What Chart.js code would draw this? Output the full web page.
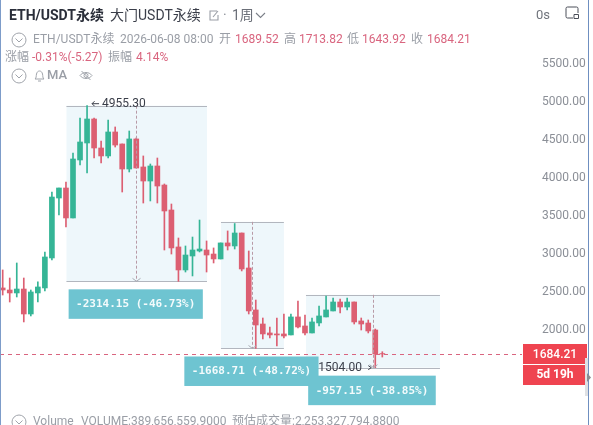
<!DOCTYPE html>
<html><head><meta charset="utf-8">
<style>
html,body{margin:0;padding:0;background:#fff;width:593px;height:425px;overflow:hidden}
#wrap{position:relative;width:593px;height:425px;font-family:Roboto,"Noto Sans CJK SC",sans-serif;overflow:hidden}
canvas{position:absolute;left:0;top:0}
.t{position:absolute;white-space:nowrap;line-height:16px;font-size:12px;color:#9a9ea6}
.p{color:#d9657f}
svg{position:absolute}
</style></head><body>
<div id="wrap">
<canvas id="c" width="593" height="425"></canvas>
<span class="t" style="left:9px;top:7px;font-size:14px;font-weight:700;color:#2a2e39">ETH/USDT永续</span>
<span class="t" style="left:110px;top:7px;font-size:14px;color:#3a3e49">大门USDT永续</span>
<svg style="left:208px;top:9px" width="12" height="13" fill="none" stroke="#9a9ea6" stroke-width="1.1"><path d="M9 2H2v9h8V6M5 8l5-6"/></svg>
<span class="t" style="left:223px;top:7px;font-size:14px;color:#8d9199">·</span>
<span class="t" style="left:232px;top:7px;font-size:14px;color:#6b6f78">1周</span>
<svg style="left:255px;top:12px" width="11" height="7" fill="none" stroke="#7b7f88" stroke-width="1.1"><path d="M1 1l4.500 4.500L10 1"/></svg>
<span class="t" style="left:536px;top:7px;font-size:13px;color:#70747c">0s</span>
<svg style="left:565px;top:6px" width="15" height="14" fill="none" stroke="#4a4e58" stroke-width="1"><path d="M8 12H2.500Q1 12 1 10.500V2.500Q1 1 2.500 1H11.500Q13 1 13 2.500V7M9 8.500h4.500v4H9z"/></svg>

<svg style="left:11px;top:32px" width="16" height="16" fill="none" stroke="#a0a4ab"><circle cx="8" cy="8" r="7"/><path d="M4.500 6.500L8 10l3.500-3.500"/></svg>
<span class="t" style="left:33px;top:31px">ETH/USDT永续</span>
<span class="t" style="left:120px;top:31px">2026-06-08 08:00</span>
<span class="t" style="left:219px;top:31px">开</span><span class="t p" style="left:235px;top:31px">1689.52</span>
<span class="t" style="left:284px;top:31px">高</span><span class="t p" style="left:299px;top:31px">1713.82</span>
<span class="t" style="left:347px;top:31px">低</span><span class="t p" style="left:362px;top:31px">1643.92</span>
<span class="t" style="left:411px;top:31px">收</span><span class="t p" style="left:427px;top:31px">1684.21</span>

<span class="t" style="left:5px;top:49px">涨幅</span><span class="t p" style="left:32px;top:49px">-0.31%(-5.27)</span>
<span class="t" style="left:108px;top:49px">振幅</span><span class="t p" style="left:136px;top:49px">4.14%</span>

<svg style="left:11px;top:68px" width="16" height="16" fill="none" stroke="#a0a4ab"><circle cx="8" cy="8" r="7"/><path d="M4.500 6.500L8 10l3.500-3.500"/></svg>
<svg style="left:33px;top:69px" width="13" height="14" fill="none" stroke="#a0a4ab"><path d="M2 10c1.500-1 1-3 1.500-5S5 2 6.500 2s2.500 1 3 3 0 4 1.500 5zM5 12h3"/></svg>
<span class="t" style="left:47px;top:67px;font-size:13px;font-weight:500;color:#9a9ea6">MA</span>
<svg style="left:79px;top:69px" width="14" height="13" fill="none" stroke="#a0a4ab"><path d="M1 6.500C4 2.500 10 2.500 13 6.500 10 10.500 4 10.500 1 6.500zM2.500 2l9 9"/><circle cx="7" cy="6.500" r="2"/></svg>

<svg style="left:11px;top:414px" width="16" height="16" fill="none" stroke="#a0a4ab"><circle cx="8" cy="8" r="7"/><path d="M4.500 6.500L8 10l3.500-3.500"/></svg>
<span class="t" style="left:33px;top:413px">Volume</span>
<span class="t" style="left:81px;top:413px">VOLUME:389,656,559.9000</span>
<span class="t" style="left:232px;top:413px">预估成交量:2,253,327,794.8800</span>

<div style="position:absolute;left:0;top:0;width:1px;height:425px;background:#7d9cc9"></div>
<div style="position:absolute;left:588px;top:0;width:1px;height:425px;background:#6f8fc0"></div>
<div style="position:absolute;left:585px;top:358px;width:3px;height:38px;background:#dfe1e4"></div>
<svg style="left:587px;top:373px" width="5" height="9"><path d="M0 0l4 4.500L0 9z" fill="#8a8d92"/></svg>
</div>
<script src="https://cdn.jsdelivr.net/npm/chart.js@4"></script>
<script>
const open=[2554,2527,2488,2540,2211,2488,2554,2949,3739,3871,3476,4240,4464,4780,4398,4293,4609,4451,4121,4517,4148,3963,4161,3910,3581,3094,2791,2975,3041,3054,3001,2936,3147,3107,3278,2817,2264,2079,1961,1948,1948,1935,2172,2053,1961,2093,2172,2251,2369,2303,2369,2119,2092,2000,1689.52];
const high=[2791,2685,2883,2685,2527,2633,3028,3818,3871,3950,4332,4793,4955.3,4793,4490,4767,4675,4451,4622,4530,4293,4187,4266,3924,3660,3212,3107,3225,3449,3173,3081,3147,3305,3403,3278,3041,2395,2158,2040,2158,2211,2211,2382,2198,2158,2316,2448,2422,2409,2422,2369,2158,2132,2013,1713.82];
const low=[2461,2369,2435,2106,2185,2369,2514,2923,3515,3357,3476,4174,4069,4266,4200,4266,4411,3818,4082,4134,3673,3700,3673,3054,3001,2641,2764,2712,3028,2764,2883,2936,3054,3067,2778,2211,1757,1882,1895,1790,1895,1935,2027,1935,1961,2053,2172,2251,2224,2264,2079,2000,1961,1504,1643.92];
const close=[2527,2488,2540,2211,2501,2567,2962,3752,3871,3476,4253,4477,4780,4398,4293,4609,4437,4121,4517,4134,3963,4161,3897,3568,3081,2791,2988,3054,3067,2988,2936,3147,3107,3278,2804,2251,2066,1948,1935,1935,1921,2172,2040,1961,2106,2185,2264,2369,2303,2369,2106,2079,1987,1684.21,1684.21];
const weekIndex=open.map((_,i)=>i);
const yTicks=[2000,2500,3000,3500,4000,4500,5000,5500];
const lastPrice=1684.21;
const lastPriceLabel="1684.21";
const countdownLabel="5d 19h";
const boxStart=[9.07,31.05,43.14];
const boxEnd=[29.06,40.0,62.2];
const boxMid=[19.03,35.5,52.63];
const boxHigh=[4955.30,3425.2,2463.7];
const boxLow=[2641.15,1756.5,1504.0];
const boxLabels=["-2314.15 (-46.73%)","-1668.71 (-48.72%)","-957.15 (-38.85%)"];
const highLabel="4955.30";
const lowLabel="1504.00";

const RED="#dc5f72",GREEN="#35b596";
const colors=open.map((o,i)=>close[i]<o?RED:GREEN);

const overlay={
  id:"overlay",
  beforeDatasetsDraw(ch){
    const {ctx,scales:{x,y}}=ch;
    ctx.save();
    boxStart.forEach((s,i)=>{
      const l=x.getPixelForValue(s),r=x.getPixelForValue(boxEnd[i]);
      const t=y.getPixelForValue(boxHigh[i]),b=y.getPixelForValue(boxLow[i]);
      ctx.fillStyle="#eef7fb";ctx.fillRect(l,t,r-l,b-t);
      ctx.strokeStyle="#b2b6be";ctx.lineWidth=1;
      ctx.beginPath();
      ctx.moveTo(l,Math.round(t)+.5);ctx.lineTo(r,Math.round(t)+.5);
      ctx.moveTo(l,Math.round(b)+.5);ctx.lineTo(r,Math.round(b)+.5);
      ctx.stroke();
    });
    ctx.restore();
  },
  afterDatasetsDraw(ch){
    const {ctx,scales:{x,y},chartArea:a}=ch;
    ctx.save();
    boxMid.forEach((m,i)=>{
      const px=Math.round(x.getPixelForValue(m))+.5;
      const t=y.getPixelForValue(boxHigh[i]),b=y.getPixelForValue(boxLow[i]);
      ctx.strokeStyle="#b89aa6";ctx.setLineDash([3,2]);ctx.lineWidth=1;
      ctx.beginPath();ctx.moveTo(px,t);ctx.lineTo(px,b);ctx.stroke();
      ctx.setLineDash([]);
      ctx.strokeStyle="#a8acb4";
      ctx.beginPath();ctx.moveTo(px-4,b-3);ctx.lineTo(px,b);ctx.lineTo(px+4,b-3);ctx.stroke();
    });
    ctx.font="12px Roboto";ctx.fillStyle="#3a3e49";ctx.textBaseline="middle";ctx.textAlign="left";
    const hy=y.getPixelForValue(boxHigh[0]);
    const hx=x.getPixelForValue(12);
    ctx.fillText(highLabel,hx+15,hy-2);
    ctx.strokeStyle="#3a3e49";
    ctx.beginPath();ctx.moveTo(hx+12,hy-2);ctx.lineTo(hx+5,hy-2);ctx.moveTo(hx+7.500,hy-4.500);ctx.lineTo(hx+5,hy-2);ctx.lineTo(hx+7.500,hy+.5);ctx.stroke();
    const ly=y.getPixelForValue(boxLow[2]);
    const lx=x.getPixelForValue(53);
    ctx.fillText(lowLabel,lx-57,ly);
    ctx.beginPath();ctx.moveTo(lx-7,ly-2);ctx.lineTo(lx-4,ly);ctx.lineTo(lx-7,ly+2);ctx.stroke();
    const py=Math.round(y.getPixelForValue(lastPrice))+.5;
    ctx.strokeStyle="#d9657f";ctx.setLineDash([4,4]);
    ctx.beginPath();ctx.moveTo(a.left,py);ctx.lineTo(a.right,py);ctx.stroke();
    ctx.setLineDash([]);
    ctx.font="bold 11px 'DejaVu Sans Mono'";ctx.textAlign="center";
    boxLabels.forEach((s,i)=>{
      const cx=(x.getPixelForValue(boxStart[i])+x.getPixelForValue(boxEnd[i]))/2-1;
      const top=y.getPixelForValue(boxLow[i])+8;
      const w=ctx.measureText(s).width+15;
      ctx.fillStyle="#6ec4d1";ctx.fillRect(cx-w/2,top,w,29.500);
      ctx.fillStyle="#f4fbfc";ctx.fillText(s,cx,top+15);
    });
    ctx.fillStyle="#ef4450";ctx.fillRect(523,344,64,20);ctx.fillRect(523,365,64,20);
    ctx.fillStyle="#fff";ctx.font="500 12px Roboto";ctx.textAlign="center";
    ctx.fillText(lastPriceLabel,555,354.500);
    ctx.font="bold 12px Roboto";
    ctx.fillText(countdownLabel,555,375);
    ctx.restore();
  }
};

new Chart(document.getElementById("c"),{
  type:"bar",
  data:{datasets:[
    {label:"body",data:weekIndex.map(i=>({x:i,y:[open[i],close[i]]})),backgroundColor:colors,barThickness:5,grouped:false},
    {label:"wick",data:weekIndex.map(i=>({x:i,y:[low[i],high[i]]})),backgroundColor:colors,barThickness:1,grouped:false}
  ]},
  options:{
    responsive:false,animation:false,
    layout:{padding:{left:0,top:0,right:0,bottom:25}},
    plugins:{legend:{display:false},tooltip:{enabled:false},title:{display:false}},
    scales:{
      x:{type:"linear",display:false,min:-0.384,max:73.87,offset:false,grid:{display:false}},
      y:{position:"right",min:1077.75,max:6347.75,
        grid:{display:false},border:{display:false},
        afterBuildTicks(ax){ax.ticks=yTicks.map(v=>({value:v}));},
        afterFit(ax){ax.width=71;ax.paddingTop=0;ax.paddingBottom=0;},
        ticks:{padding:12,color:"#8b8f97",font:{family:"Roboto",size:12},autoSkip:false,callback:v=>Number(v).toFixed(2)}
      }
    }
  },
  plugins:[overlay]
});
</script>
</body></html>
